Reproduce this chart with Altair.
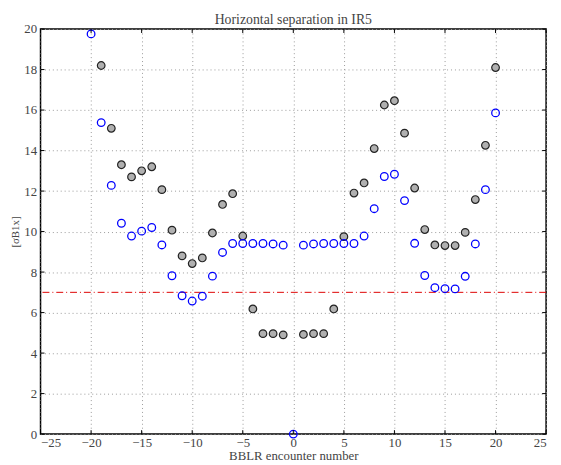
import altair as alt
import pandas as pd

# Data
gray_x = [-19, -18, -17, -16, -15, -14, -13, -12, -11, -10, -9, -8, -7, -6, -5, -4, -3, -2, -1,
          1, 2, 3, 4, 5, 6, 7, 8, 9, 10, 11, 12, 13, 14, 15, 16, 17, 18, 19, 20]
gray_y = [18.2, 15.1, 13.3, 12.7, 13.0, 13.2, 12.07, 10.07, 8.8, 8.42, 8.7, 9.93, 11.34, 11.87, 9.78,
          6.18, 4.96, 4.96, 4.9, 4.92, 4.96, 4.96, 6.18, 9.75, 11.9, 12.4, 14.1, 16.25, 16.46,
          14.86, 12.15, 10.1, 9.34, 9.31, 9.31, 9.96, 11.58, 14.26, 18.1]
blue_x = [-20, -19, -18, -17, -16, -15, -14, -13, -12, -11, -10, -9, -8, -7, -6, -5, -4, -3, -2, -1,
          0, 1, 2, 3, 4, 5, 6, 7, 8, 9, 10, 11, 12, 13, 14, 15, 16, 17, 18, 19, 20]
blue_y = [19.76, 15.38, 12.28, 10.41, 9.78, 10.02, 10.2, 9.34, 7.82, 6.83, 6.57, 6.81, 7.8, 8.97,
          9.41, 9.41, 9.41, 9.41, 9.39, 9.33, 0.0, 9.33, 9.39, 9.41, 9.41, 9.41, 9.41, 9.78, 11.13,
          12.72, 12.83, 11.53, 9.42, 7.83, 7.23, 7.18, 7.17, 7.79, 9.39, 12.07, 15.86]
threshold = 7
x_ticks = [-25, -20, -15, -10, -5, 0, 5, 10, 15, 20, 25]
y_ticks = [0, 2, 4, 6, 8, 10, 12, 14, 16, 18, 20]

W, H = 513, 411
FONT = "Liberation Serif"

gray_df = pd.DataFrame({"x": gray_x, "y": gray_y})
blue_df = pd.DataFrame({"x": blue_x, "y": blue_y})
xt_df = pd.DataFrame({"t": x_ticks})
yt_df = pd.DataFrame({"t": y_ticks})

xscale = alt.Scale(domain=[-25, 25], nice=False, zero=False)
yscale = alt.Scale(domain=[0, 20], nice=False, zero=False)

xaxis = alt.Axis(values=x_ticks, title="BBLR encounter number", grid=True, ticks=False,
                 domain=False, labelPadding=3, titleFontSize=13,
                 titleY=26, titleBaseline="alphabetic")
yaxis = alt.Axis(values=y_ticks, title="[σB1x]", grid=True, ticks=False, domain=False,
                 labelPadding=4, titleFontSize=11, titleX=-20, titleBaseline="bottom")

gray = alt.Chart(gray_df).mark_point(
    filled=True, fill="#b0b0b0", stroke="#222222", strokeWidth=1.2, size=60, opacity=1
).encode(
    x=alt.X("x:Q", scale=xscale, axis=xaxis),
    y=alt.Y("y:Q", scale=yscale, axis=yaxis),
)

blue = alt.Chart(blue_df).mark_point(
    filled=False, color="#0000ff", strokeWidth=1.3, size=60, opacity=1
).encode(
    x=alt.X("x:Q", scale=xscale),
    y=alt.Y("y:Q", scale=yscale),
)

hline = alt.Chart(pd.DataFrame({"y": [threshold]})).mark_rule(
    color="#dd0000", strokeDash=[7, 3, 1, 3], strokeWidth=1
).encode(y=alt.Y("y:Q", scale=yscale))

tick_len = 4
xt_bot = alt.Chart(xt_df).mark_rule(color="black", strokeWidth=1).encode(
    x=alt.X("t:Q", scale=xscale), y=alt.value(H), y2=alt.value(H - tick_len))
xt_top = alt.Chart(xt_df).mark_rule(color="black", strokeWidth=1).encode(
    x=alt.X("t:Q", scale=xscale), y=alt.value(0), y2=alt.value(tick_len))
yt_left = alt.Chart(yt_df).mark_rule(color="black", strokeWidth=1).encode(
    y=alt.Y("t:Q", scale=yscale), x=alt.value(0), x2=alt.value(tick_len))
yt_right = alt.Chart(yt_df).mark_rule(color="black", strokeWidth=1).encode(
    y=alt.Y("t:Q", scale=yscale), x=alt.value(W), x2=alt.value(W - tick_len))

chart = alt.layer(hline, gray, blue, xt_bot, xt_top, yt_left, yt_right).properties(
    width=W, height=H,
    title=alt.TitleParams("Horizontal separation in IR5", font=FONT, fontSize=14,
                          fontWeight="normal", color="#444444", offset=5, dy=9),
    autosize=alt.AutoSizeParams(type="none"),
    padding={"left": 33, "top": 18, "right": 7, "bottom": 28},
).configure_view(
    stroke="black", strokeWidth=1.5
).configure_axis(
    labelFont=FONT, titleFont=FONT, labelFontSize=13,
    labelColor="#444444", titleColor="#444444", titleFontWeight="normal",
    gridColor="#999999", gridDash=[1, 3], gridWidth=1,
)

chart.save("out.html", embed_options={"renderer": "svg", "actions": False})
